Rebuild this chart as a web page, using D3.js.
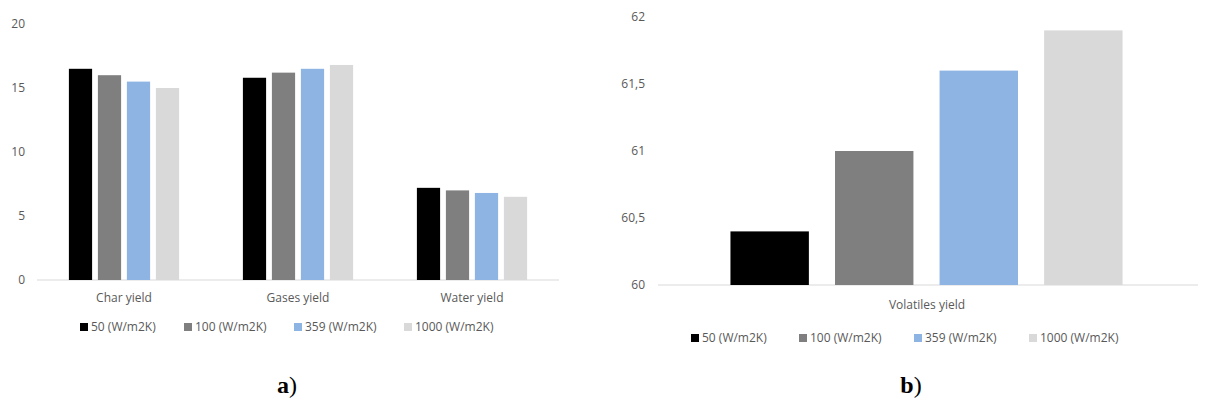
<!DOCTYPE html>
<html><head><meta charset="utf-8">
<script src="https://cdn.jsdelivr.net/npm/d3@7"></script>
<style>body{margin:0;background:#fff}svg{display:block}</style>
</head><body><svg id="c" width="1206" height="411"></svg>
<script>
const seriesNames = ["50 (W/m2K)", "100 (W/m2K)", "359 (W/m2K)", "1000 (W/m2K)"];
const seriesColors = ["#000000", "#7f7f7f", "#8eb4e3", "#d9d9d9"];
const catsA = ["Char yield", "Gases yield", "Water yield"];
const valuesA = [[16.5, 16.0, 15.5, 15.0], [15.8, 16.2, 16.5, 16.8], [7.2, 7.0, 6.8, 6.5]];
const ticksA = [0, 5, 10, 15, 20];
const catsB = ["Volatiles yield"];
const valuesB = [60.4, 61.0, 61.6, 61.9];
const ticksB = [60, 60.5, 61, 61.5, 62];

const svg = d3.select("#c");
const font = "'Open Sans', 'Liberation Sans', sans-serif";
const txt = "#595959";

// Chart a
const xa = d3.scaleBand().domain(catsA).range([37, 559]).paddingInner(0).paddingOuter(0);
const ya = d3.scaleLinear().domain([0, 20]).range([280, 24]);
const xin = d3.scaleBand().domain(d3.range(4)).range([0, xa.bandwidth()]).paddingInner(0.2).paddingOuter(1.1);
ticksA.forEach(t => svg.append("text").attr("x", 25).attr("y", ya(t)).attr("dy", "0.35em")
  .attr("text-anchor", "end").attr("font-family", font).attr("font-size", 12).attr("fill", txt).text(t));
svg.append("line").attr("x1", 37).attr("x2", 559).attr("y1", ya(0)).attr("y2", ya(0)).attr("stroke", "#d9d9d9");
catsA.forEach((c, i) => {
  const g = svg.append("g").attr("transform", `translate(${xa(c)},0)`);
  valuesA[i].forEach((v, j) => g.append("rect").attr("x", xin(j)).attr("width", xin.bandwidth())
    .attr("y", ya(v)).attr("height", ya(0) - ya(v)).attr("fill", seriesColors[j]));
  svg.append("text").attr("x", xa(c) + xa.bandwidth() / 2).attr("y", 302).attr("text-anchor", "middle")
    .attr("font-family", font).attr("font-size", 12).attr("fill", txt).text(c);
});

// Chart b
const xb = d3.scaleBand().domain(d3.range(4)).range([720, 1133]).paddingInner(0.25).paddingOuter(0.1);
const yb = d3.scaleLinear().domain([60, 62]).range([285, 17]);
ticksB.forEach(t => svg.append("text").attr("x", 645).attr("y", yb(t)).attr("dy", "0.35em")
  .attr("text-anchor", "end").attr("font-family", font).attr("font-size", 12).attr("fill", txt)
  .text(String(t).replace(".", ",")));
svg.append("line").attr("x1", 658).attr("x2", 1198).attr("y1", yb(60)).attr("y2", yb(60)).attr("stroke", "#d9d9d9");
valuesB.forEach((v, j) => svg.append("rect").attr("x", xb(j)).attr("width", xb.bandwidth())
  .attr("y", yb(v)).attr("height", yb(60) - yb(v)).attr("fill", seriesColors[j]));
svg.append("text").attr("x", 927).attr("y", 309).attr("text-anchor", "middle")
  .attr("font-family", font).attr("font-size", 12).attr("fill", txt).text(catsB[0]);

// Legends
function legend(x0, y, gaps) {
  let x = x0;
  seriesNames.forEach((n, j) => {
    svg.append("rect").attr("x", x).attr("y", y - 4).attr("width", 8).attr("height", 8).attr("fill", seriesColors[j]);
    svg.append("text").attr("x", x + 11).attr("y", y).attr("dy", "0.35em").attr("font-family", font)
      .attr("font-size", 12).attr("fill", txt).text(n);
    x += gaps[j];
  });
}
legend(80, 327, [104, 110, 110]);
legend(691, 338, [108, 115, 115]);

svg.append("text").attr("x", 287).attr("y", 393).attr("text-anchor", "middle").attr("font-family", "'Liberation Serif', serif")
  .attr("font-size", 24).attr("font-weight", "bold").attr("fill", "#000").text("a").append("tspan").attr("font-weight", "normal").text(")");
svg.append("text").attr("x", 911).attr("y", 393).attr("text-anchor", "middle").attr("font-family", "'Liberation Serif', serif")
  .attr("font-size", 24).attr("font-weight", "bold").attr("fill", "#000").text("b").append("tspan").attr("font-weight", "normal").text(")");
</script></body></html>
